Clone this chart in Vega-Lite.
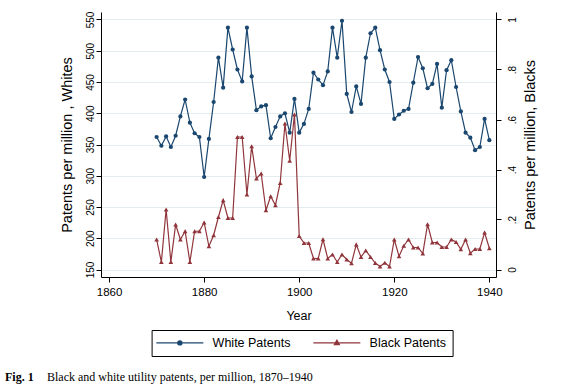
{
  "$schema": "https://vega.github.io/schema/vega-lite/v6.json",
  "autosize": {"type": "none"},
  "padding": {"left": 101, "top": 12, "right": 74, "bottom": 111},
  "width": 395,
  "height": 265,
  "background": "white",
  "config": {
    "view": {"stroke": null},
    "font": "Liberation Sans",
    "axis": {
      "domainColor": "black", "tickColor": "black", "labelColor": "black", "titleColor": "black",
      "titleFontWeight": "normal", "domainWidth": 1, "tickWidth": 1,
      "labelFont": "Liberation Sans", "titleFont": "Liberation Sans"
    }
  },
  "data": {"values": [
    {"year": 1870, "white": 362, "black": 0.12},
    {"year": 1871, "white": 348, "black": 0.03},
    {"year": 1872, "white": 363, "black": 0.24},
    {"year": 1873, "white": 346, "black": 0.03},
    {"year": 1874, "white": 364, "black": 0.18},
    {"year": 1875, "white": 395, "black": 0.12},
    {"year": 1876, "white": 422, "black": 0.153},
    {"year": 1877, "white": 385, "black": 0.03},
    {"year": 1878, "white": 368, "black": 0.153},
    {"year": 1879, "white": 362, "black": 0.153},
    {"year": 1880, "white": 298, "black": 0.188},
    {"year": 1881, "white": 359, "black": 0.093},
    {"year": 1882, "white": 418, "black": 0.137},
    {"year": 1883, "white": 489, "black": 0.21},
    {"year": 1884, "white": 441, "black": 0.277},
    {"year": 1885, "white": 537, "black": 0.206},
    {"year": 1886, "white": 502, "black": 0.206},
    {"year": 1887, "white": 470, "black": 0.53},
    {"year": 1888, "white": 451, "black": 0.53},
    {"year": 1889, "white": 537, "black": 0.30},
    {"year": 1890, "white": 459, "black": 0.493},
    {"year": 1891, "white": 405, "black": 0.364},
    {"year": 1892, "white": 411, "black": 0.384},
    {"year": 1893, "white": 413, "black": 0.237},
    {"year": 1894, "white": 360, "black": 0.293},
    {"year": 1895, "white": 378, "black": 0.257},
    {"year": 1896, "white": 395, "black": 0.346},
    {"year": 1897, "white": 400, "black": 0.584},
    {"year": 1898, "white": 369, "black": 0.435},
    {"year": 1899, "white": 423, "black": 0.62},
    {"year": 1900, "white": 369, "black": 0.134},
    {"year": 1901, "white": 383, "black": 0.106},
    {"year": 1902, "white": 407, "black": 0.106},
    {"year": 1903, "white": 465, "black": 0.044},
    {"year": 1904, "white": 454, "black": 0.044},
    {"year": 1905, "white": 445, "black": 0.121},
    {"year": 1906, "white": 467, "black": 0.044},
    {"year": 1907, "white": 537, "black": 0.06},
    {"year": 1908, "white": 489, "black": 0.03},
    {"year": 1909, "white": 548, "black": 0.06},
    {"year": 1910, "white": 431, "black": 0.04},
    {"year": 1911, "white": 402, "black": 0.025},
    {"year": 1912, "white": 443, "black": 0.10},
    {"year": 1913, "white": 415, "black": 0.05},
    {"year": 1914, "white": 489, "black": 0.076},
    {"year": 1915, "white": 528, "black": 0.05},
    {"year": 1916, "white": 537, "black": 0.026},
    {"year": 1917, "white": 501, "black": 0.012},
    {"year": 1918, "white": 470, "black": 0.027},
    {"year": 1919, "white": 450, "black": 0.012},
    {"year": 1920, "white": 391, "black": 0.12},
    {"year": 1921, "white": 398, "black": 0.053},
    {"year": 1922, "white": 404, "black": 0.095},
    {"year": 1923, "white": 407, "black": 0.12},
    {"year": 1924, "white": 449, "black": 0.088},
    {"year": 1925, "white": 490, "black": 0.088},
    {"year": 1926, "white": 472, "black": 0.064},
    {"year": 1927, "white": 440, "black": 0.181},
    {"year": 1928, "white": 447, "black": 0.108},
    {"year": 1929, "white": 479, "black": 0.108},
    {"year": 1930, "white": 409, "black": 0.09},
    {"year": 1931, "white": 469, "black": 0.09},
    {"year": 1932, "white": 485, "black": 0.12},
    {"year": 1933, "white": 442, "black": 0.11},
    {"year": 1934, "white": 403, "black": 0.081},
    {"year": 1935, "white": 369, "black": 0.12},
    {"year": 1936, "white": 361, "black": 0.065},
    {"year": 1937, "white": 341, "black": 0.082},
    {"year": 1938, "white": 346, "black": 0.082},
    {"year": 1939, "white": 391, "black": 0.148},
    {"year": 1940, "white": 357, "black": 0.085}
  ]},
  "encoding": {
    "x": {
      "field": "year", "type": "quantitative",
      "scale": {"domain": [1858.3, 1941.4], "nice": false, "zero": false},
      "axis": {
        "values": [1860, 1880, 1900, 1920, 1940], "format": "d", "title": "Year", "grid": false,
        "tickSize": 5, "labelPadding": 4, "labelFontSize": 11.5, "titleFontSize": 12.5, "titlePadding": 12
      }
    }
  },
  "layer": [
    {
      "encoding": {
        "y": {
          "field": "white", "type": "quantitative",
          "scale": {"domain": [138, 562], "nice": false, "zero": false},
          "axis": {
            "orient": "left", "values": [150, 200, 250, 300, 350, 400, 450, 500, 550],
            "title": "Patents per million , Whites", "grid": true, "gridColor": "#e3ecef", "gridWidth": 1,
            "labelAngle": 270, "labelAlign": "center", "labelBaseline": "bottom",
            "tickSize": 5, "labelPadding": 1, "labelFontSize": 10, "titleFontSize": 14.5, "titlePadding": 11
          }
        }
      },
      "layer": [
        {
          "mark": {"type": "line", "strokeWidth": 1.2},
          "encoding": {
            "color": {
              "datum": "White Patents",
              "scale": {"domain": ["White Patents", "Black Patents"], "range": ["#1a476f", "#90353b"]},
              "legend": {
                "orient": "none", "legendX": 50.6, "legendY": 318, "direction": "horizontal", "title": null,
                "strokeColor": "black", "fillColor": "white", "padding": 6.5,
                "labelFontSize": 12.5, "labelColor": "black", "labelFont": "Liberation Sans",
                "symbolSize": 100, "symbolOffset": 15.5, "labelOffset": 26.5, "columnPadding": 19,
                "symbolStrokeWidth": 1.2,
                "encoding": {
                  "symbols": {
                    "shape": {"value": {"expr": "datum.value === 'White Patents' ? 'M-4.7,0H4.7M0.42,0A0.42,0.42,0,1,1,-0.42,0A0.42,0.42,0,1,1,0.42,0Z' : 'M-4.7,0H4.7M0,-0.55L0.5,0.35L-0.5,0.35Z'"}},
                    "fill": {"value": {"expr": "datum.value === 'White Patents' ? '#1a476f' : '#90353b'"}},
                    "stroke": {"value": {"expr": "datum.value === 'White Patents' ? '#1a476f' : '#90353b'"}},
                    "strokeWidth": {"value": 1.2},
                    "opacity": {"value": 1}
                  }
                }
              }
            }
          }
        },
        {
          "mark": {"type": "point", "shape": "circle", "filled": true, "size": 18, "opacity": 1},
          "encoding": {"color": {"datum": "White Patents"}}
        }
      ]
    },
    {
      "encoding": {
        "y": {
          "field": "black", "type": "quantitative",
          "scale": {"domain": [-0.03, 1.03], "nice": false, "zero": false},
          "axis": {
            "orient": "right", "values": [0, 0.2, 0.4, 0.6, 0.8, 1],
            "labelExpr": "datum.value == 0 ? '0' : datum.value == 1 ? '1' : replace(format(datum.value, '.1f'), '0.', '.')",
            "title": "Patents per million, Blacks", "grid": false,
            "labelAngle": 270, "labelAlign": "center", "labelBaseline": "top",
            "titleAngle": 270, "titleBaseline": "top",
            "tickSize": 5, "labelPadding": 6, "labelFontSize": 10, "titleFontSize": 14.5, "titlePadding": 6
          }
        }
      },
      "layer": [
        {
          "mark": {"type": "line", "strokeWidth": 1.2},
          "encoding": {"color": {"datum": "Black Patents"}}
        },
        {
          "mark": {"type": "point", "shape": "triangle-up", "filled": true, "size": 22, "opacity": 1},
          "encoding": {"color": {"datum": "Black Patents"}}
        }
      ]
    }
  ],
  "resolve": {"scale": {"y": "independent"}},
  "title": {
    "text": "Fig. 1",
    "subtitle": "\u200b\u00a0\u00a0\u00a0\u00a0\u00a0\u00a0\u00a0\u00a0\u00a0\u00a0\u00a0\u00a0\u00a0\u00a0Black and white utility patents, per million, 1870\u20131940",
    "orient": "bottom", "anchor": "start", "frame": "group", "dx": -96,
    "font": "Liberation Serif", "fontSize": 12, "fontWeight": "bold", "color": "black",
    "subtitleFont": "Liberation Serif", "subtitleFontSize": 12, "subtitleColor": "black",
    "subtitlePadding": -12, "offset": 15
  }
}
